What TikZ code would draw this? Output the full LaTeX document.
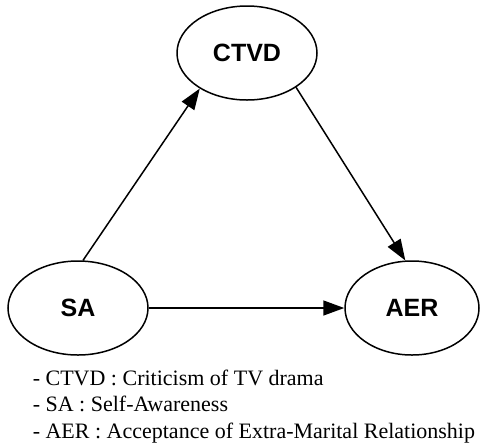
\documentclass[tikz,border=0pt]{standalone}
\usepackage{fontspec}
\setmainfont{Liberation Serif}
\setsansfont{Liberation Sans}
\usetikzlibrary{shapes.geometric, arrows.meta, positioning}

\begin{document}
\begin{tikzpicture}[
      x=1pt, y=-1pt,
      every path/.style={line width=1.5pt},
      var/.style={ellipse, draw, inner sep=0pt, minimum width=140pt, minimum height=94pt,
        font=\sffamily\bfseries\fontsize{25}{25}\selectfont},
      link/.style={-{Triangle[length=21pt, width=15pt]}},
      legend/.style={align=left, inner sep=0pt, font=\fontsize{22}{26.5}\selectfont}
    ]
    \useasboundingbox (0,0) rectangle (481,445);

    \node[var] (ctvd) at (247,53) {CTVD};
    \node[var] (sa) at (78,308) {SA};
    \node[var, minimum width=134pt] (aer) at (412,308) {AER};

    \draw[link] (sa.84) -- (ctvd.217);
    \draw[link] (ctvd.-35) -- (aer.98);
    \draw[link] (sa) -- (aer);

    % abbreviations
    \node[legend, anchor=north west] (abbr) at (32,369) {%
      - CTVD : Criticism of TV drama\\
      - SA : Self-Awareness\\
      - AER : Acceptance of Extra-Marital Relationship};

\end{tikzpicture}
\end{document}
